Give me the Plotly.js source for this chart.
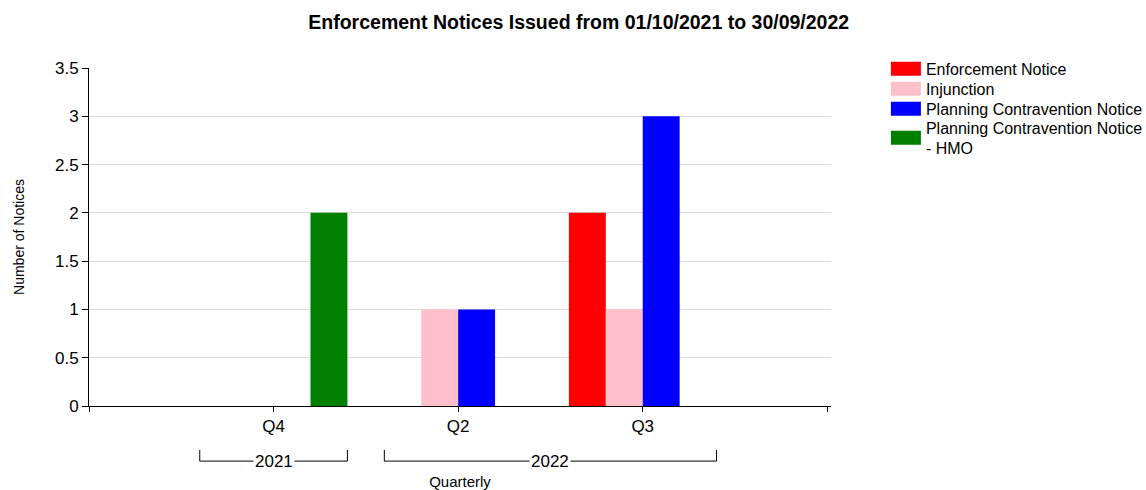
<!DOCTYPE html>
<html>
<head>
<meta charset="utf-8">
<script src="https://cdn.plot.ly/plotly-3.0.1.min.js"></script>
<style>html,body{margin:0;padding:0;background:#fff;}#chart{width:1146px;height:490px;}</style>
</head>
<body>
<div id="chart"></div>
<script>
const quarters = ["Q4", "Q2", "Q3"];
const years = ["2021", "2022", "2022"];
const seriesNames = ["Enforcement Notice", "Injunction", "Planning Contravention Notice", "Planning Contravention Notice<br>- HMO"];
const enforcementNotice = [0, 0, 2];
const injunction = [0, 1, 1];
const planningContravention = [0, 1, 3];
const planningContraventionHMO = [2, 0, 0];
const colors = ["#ff0000", "#ffc0cb", "#0000ff", "#008000"];

const xIdx = quarters.map((q, i) => i);
const seriesValues = [enforcementNotice, injunction, planningContravention, planningContraventionHMO];
const font = "Liberation Sans, Arial, sans-serif";

const traces = seriesValues.map((vals, k) => ({
  type: "bar",
  name: seriesNames[k],
  x: xIdx,
  y: vals,
  marker: { color: colors[k], line: { width: 0 } },
  hoverinfo: "y+name"
}));

// year group brackets
const groups = [];
years.forEach((y, i) => {
  const g = groups[groups.length - 1];
  if (g && g.year === y) g.end = i; else groups.push({ year: y, start: i, end: i });
});
const yLine = -0.163, yTop = -0.13;
const shapes = [];
const annotations = [];
groups.forEach(g => {
  const x0 = g.start - 0.4, x1 = g.end + 0.4;
  const path = `M ${x0} ${yTop} L ${x0} ${yLine} L ${x1} ${yLine} L ${x1} ${yTop}`;
  shapes.push({ type: "path", xref: "x", yref: "paper", path: path, line: { color: "#000", width: 1 } });
  annotations.push({
    xref: "x", yref: "paper", x: (x0 + x1) / 2, y: yLine, text: g.year, showarrow: false,
    font: { family: font, size: 17, color: "#000" }, bgcolor: "#fff", borderpad: 1,
    xanchor: "center", yanchor: "middle"
  });
});

const layout = {
  width: 1146, height: 490,
  margin: { l: 89, r: 315, t: 68, b: 84, autoexpand: false },
  paper_bgcolor: "#fff", plot_bgcolor: "#fff",
  barmode: "group", bargap: 0.2, bargroupgap: 0,
  title: {
    text: "Enforcement Notices Issued from 01/10/2021 to 30/09/2022",
    font: { family: font, size: 19.5, color: "#000", weight: "bold" },
    x: 0.505, xref: "container", xanchor: "center", y: 0.955, yanchor: "middle"
  },
  font: { family: font, size: 17, color: "#000" },
  xaxis: {
    type: "linear", range: [-1, 3.02],
    tickmode: "array", tickvals: [-1].concat(xIdx, [quarters.length]),
    ticktext: [""].concat(quarters, [""]),
    ticks: "outside", ticklen: 5, tickcolor: "#000", tickwidth: 1,
    showline: true, linecolor: "#000", linewidth: 1,
    showgrid: false, zeroline: false,
    tickfont: { family: font, size: 17, color: "#000" },
    title: { text: "Quarterly", font: { family: font, size: 15, color: "#000" }, standoff: 45 },
    fixedrange: true
  },
  yaxis: {
    range: [0, 3.5], dtick: 0.5, tick0: 0,
    ticks: "outside", ticklen: 6, tickcolor: "#000", tickwidth: 1,
    showline: true, linecolor: "#000", linewidth: 1,
    showgrid: true, gridcolor: "#dcdcdc", gridwidth: 1, zeroline: false,
    tickfont: { family: font, size: 17, color: "#000" },
    title: { text: "Number of Notices", font: { family: font, size: 14, color: "#000" }, standoff: 27 },
    fixedrange: true
  },
  legend: {
    x: 1.074, xanchor: "left", y: 1.048, yanchor: "top",
    font: { family: font, size: 16, color: "#000" },
    itemwidth: 30, tracegroupgap: 0, traceorder: "normal",
    bgcolor: "rgba(0,0,0,0)"
  },
  showlegend: true,
  shapes: shapes,
  annotations: annotations
};

Plotly.newPlot("chart", traces, layout, { displayModeBar: false, staticPlot: true }).then(gd => {
  // rectangular swatches and tighter row spacing like the original legend
  const items = gd.querySelectorAll(".legend .traces");
  let first = null;
  items.forEach((it, i) => {
    const m = /translate\(\s*([-\d.]+)[ ,]+([-\d.]+)\s*\)/.exec(it.getAttribute("transform") || "");
    if (m) {
      const tx = parseFloat(m[1]), ty = parseFloat(m[2]);
      if (first === null) first = ty;
      const lines = (seriesNames[i].match(/<br>/g) || []).length;
      it.setAttribute("transform", `translate(${tx},${first + i * 20 + lines * 9})`);
    }
    it.querySelectorAll(".legendpoints path").forEach(p => p.setAttribute("d", "M15,7H-15V-7H15Z"));
  });
});
</script>
</body>
</html>
